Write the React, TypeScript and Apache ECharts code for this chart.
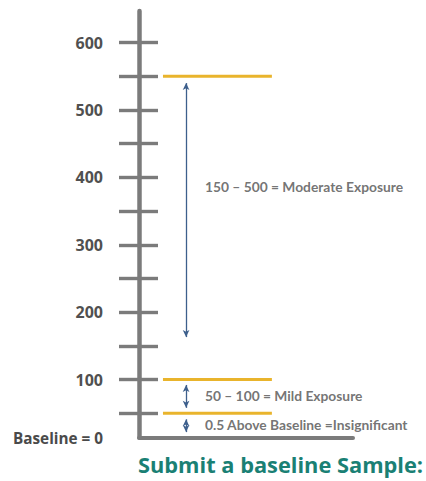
import React, { useEffect, useRef } from "react";
import * as echarts from "echarts";

// Axis range (schematic scale; baseline drawn slightly above 0)
const BASE = 14;
const TOP = 647;
const majorLabels = [100, 200, 300, 400, 500, 600];
const tickValues = [50, 100, 150, 200, 250, 300, 350, 400, 450, 500, 550, 600];

// Orange threshold lines
const thresholds = [550, 100, 50];
const thresholdStartX = 11.2;
const thresholdEndX = 62.1;

// Double-headed arrows [from, to]
const arrowX = 22;
const arrows: [number, number][] = [
  [163, 540],
  [58, 92],
  [22, 41],
];

// Annotation texts
const textX = 30.8;
const annotationValues = [387, 75.6, 34];
const annotationTexts = [
  "150 – 500 = Moderate Exposure",
  "50 – 100 = Mild Exposure",
  "0.5 Above Baseline =Insignificant",
];

const baselineLabel = "Baseline = 0";
const footer = "Submit a baseline Sample:";

export default function App() {
  const ref = useRef<HTMLDivElement>(null);
  useEffect(() => {
    if (!ref.current) return;
    const chart = echarts.init(ref.current, undefined, { renderer: "svg" });
    const gray = "#7b7b7b";
    const series: any[] = thresholds.map((t) => ({
      type: "line",
      data: [
        [thresholdStartX, t],
        [thresholdEndX, t],
      ],
      symbol: "none",
      lineStyle: { color: "#E9B42C", width: 3 },
      silent: true,
    }));
    series.push({
      type: "scatter",
      symbolSize: 0,
      data: annotationValues.map((v, i) => [textX, v, annotationTexts[i]]),
      label: {
        show: true,
        position: "right",
        distance: 0,
        formatter: (p: any) => p.data[2],
        fontFamily: "Lato",
        fontWeight: "bold",
        fontSize: 13.8,
        color: "#505050",
      },
      silent: true,
      markLine: {
        silent: true,
        symbol: ["arrow", "arrow"],
        symbolSize: [5, 7],
        label: { show: false },
        lineStyle: { color: "#3d5f8c", width: 1.3, type: "solid" },
        data: arrows.map(([a, b]) => [
          { coord: [arrowX, a] },
          { coord: [arrowX, b] },
        ]),
      },
    });
    chart.setOption({
      animation: false,
      title: {
        text: footer,
        left: 138,
        top: 453,
        padding: 0,
        textStyle: {
          fontFamily: "Open Sans",
          fontWeight: "bold",
          fontSize: 21.8,
          color: "#1a8074",
        },
      },
      grid: { left: 139, right: 73, top: 11, bottom: 43.5 },
      xAxis: {
        type: "value",
        min: 0,
        max: 100,
        axisLine: { show: true, lineStyle: { color: gray, width: 4 } },
        axisTick: { show: false },
        axisLabel: { show: false },
        splitLine: { show: false },
      },
      yAxis: [
        {
          type: "value",
          min: BASE,
          max: TOP,
          axisLine: { show: true, lineStyle: { color: gray, width: 4.5 } },
          axisTick: {
            show: true,
            customValues: tickValues,
            length: 20,
            lineStyle: { color: gray, width: 3.4 },
          },
          axisLabel: {
            show: true,
            customValues: [BASE, ...majorLabels],
            formatter: (v: number) =>
              v === BASE ? "{b|" + baselineLabel + "}" : String(v),
            margin: 36,
            fontFamily: "Open Sans",
            fontWeight: "bold",
            fontSize: 16,
            color: "#505050",
            rich: {
              b: {
                fontFamily: "Open Sans",
                fontWeight: "bold",
                fontSize: 15.3,
                color: "#4a4a4a",
              },
            },
          },
          splitLine: { show: false },
        },
        {
          type: "value",
          min: BASE,
          max: TOP,
          position: "left",
          axisLine: { show: false },
          axisTick: {
            show: true,
            inside: true,
            customValues: tickValues,
            length: 19,
            lineStyle: { color: gray, width: 3.4 },
          },
          axisLabel: { show: false },
          splitLine: { show: false },
        },
      ],
      series,
    });
    return () => chart.dispose();
  }, []);
  return (
    <div
      ref={ref}
      style={{ position: "absolute", left: 0, top: 0, width: 426, height: 481 }}
    />
  );
}
